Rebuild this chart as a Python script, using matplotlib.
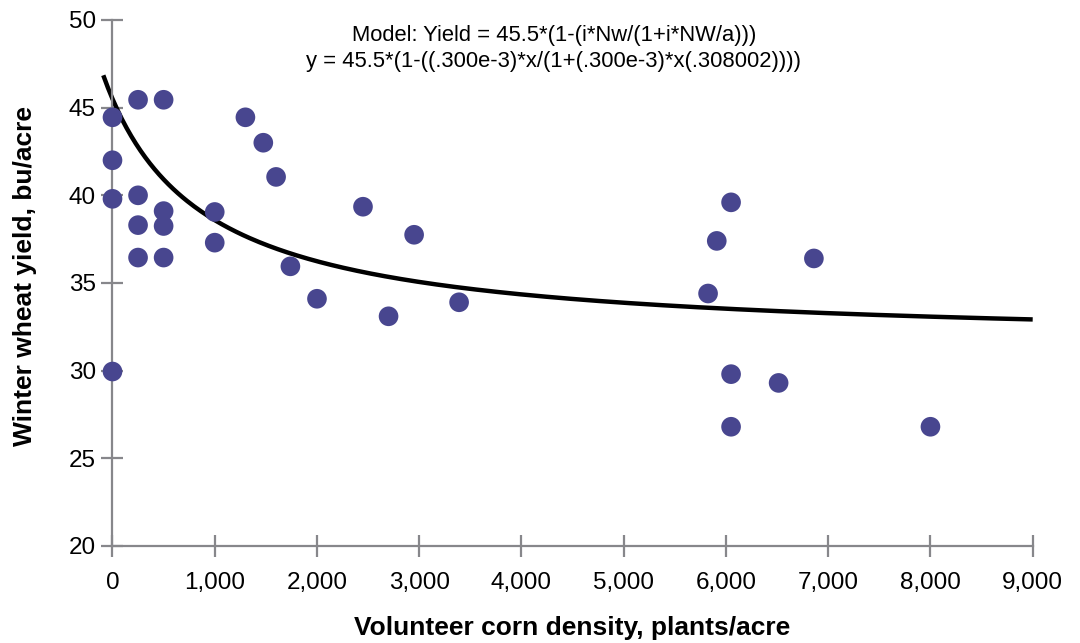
import numpy as np
import matplotlib.pyplot as plt

plt.rcParams['font.family'] = ['Liberation Sans', 'DejaVu Sans']

density = [0, 0, 0, 0, 250, 250, 250, 250, 500, 500, 500, 500,
           1000, 1000, 1300, 1475, 1600, 1740, 2000, 2450, 2700, 2950, 3390,
           5825, 5910, 6050, 6050, 6050, 6515, 6860, 8000]
yield_bu = [44.45, 42.0, 39.8, 29.95, 45.45, 40.0, 38.3, 36.45, 45.45, 39.1, 38.25, 36.45,
            39.05, 37.3, 44.45, 43.0, 41.05, 35.95, 34.1, 39.35, 33.1, 37.75, 33.9,
            34.4, 37.4, 39.6, 29.8, 26.8, 29.3, 36.4, 26.8]

# model parameters as printed on the chart
y_max = 45.5
i_param = 0.300e-3
a_param = 0.308002
curve_start, curve_end = -90, 9000

xticks = [0, 1000, 2000, 3000, 4000, 5000, 6000, 7000, 8000, 9000]
yticks = [20, 25, 30, 35, 40, 45, 50]

fig = plt.figure(figsize=(10.8, 6.43), dpi=100)
ax = fig.add_axes([0.0928, 0.1509, 0.8634, 0.818])

xc = np.linspace(curve_start, curve_end, 400)
yc = y_max * (1 - (i_param * xc / (1 + i_param * xc / a_param)))
ax.plot(xc, yc, color='black', lw=3.2, zorder=2, solid_capstyle='butt')
ax.scatter(density, yield_bu, s=200, color='#48468f', edgecolors='none', zorder=3, clip_on=False)

ax.set_xlim(-120, 9000)
ax.set_ylim(20, 50)
ax.spines['left'].set_position(('data', 0))
ax.spines['right'].set_visible(False)
ax.spines['top'].set_visible(False)
ax.spines['bottom'].set_bounds(0, 9000)
for s in ['left', 'bottom']:
    ax.spines[s].set_color('#87878b')
    ax.spines[s].set_linewidth(1.6)

ax.set_xticks(xticks)
ax.set_xticklabels([f'{v:,}' for v in xticks])
ax.set_yticks(yticks)
ax.tick_params(direction='inout', length=16, width=1.6, color='#87878b',
               labelsize=17.5, labelcolor='black')
ax.tick_params(axis='x', pad=11)
ax.tick_params(axis='y', pad=4)

fig.text(0.023, 0.57, 'Winter wheat yield, bu/acre', rotation=90, ha='center', va='center',
         fontsize=19, fontweight='bold')
fig.text(0.53, 0.023, 'Volunteer corn density, plants/acre', ha='center', va='center',
         fontsize=19, fontweight='bold')

fig.text(554 / 1080, 1 - 36 / 643, 'Model: Yield = 45.5*(1-(i*Nw/(1+i*NW/a)))',
         ha='center', va='center', fontsize=15.8)
fig.text(554 / 1080, 1 - 62 / 643, 'y = 45.5*(1-((.300e-3)*x/(1+(.300e-3)*x(.308002))))',
         ha='center', va='center', fontsize=15.8)

fig.savefig('out.png', dpi=100)
